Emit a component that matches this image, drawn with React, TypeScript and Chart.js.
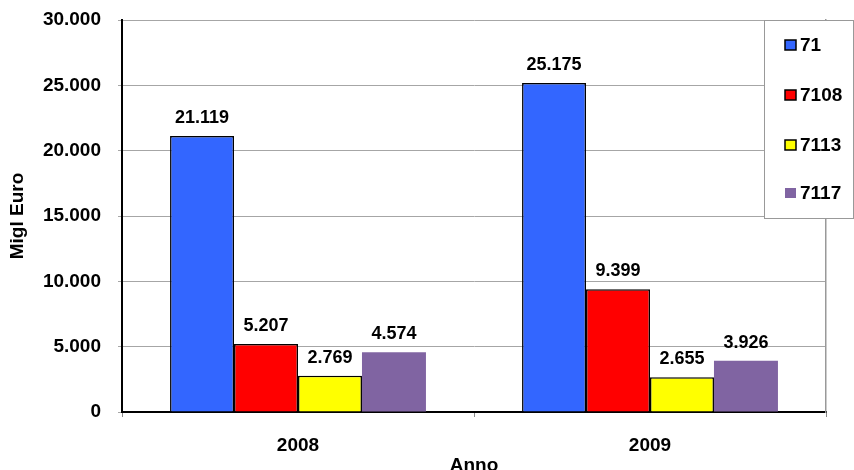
import React, { useEffect, useRef } from "react";
import { Chart, registerables } from "chart.js";

Chart.register(...registerables);

const categories = ["2008", "2009"];
const seriesNames = ["71", "7108", "7113", "7117"];
const series71 = [21119, 25175];
const series7108 = [5207, 9399];
const series7113 = [2769, 2655];
const series7117 = [4574, 3926];
const yTicks = [0, 5000, 10000, 15000, 20000, 25000, 30000];

const colors = ["#3366FF", "#FF0000", "#FFFF00", "#8064A2"];
const borders = [1.5, 1.5, 1.5, 0];
const FONT = "'Liberation Sans', Arial, Helvetica, sans-serif";

function fmt(v: number): string {
  const s = Math.round(v).toString();
  return s.replace(/\B(?=(\d{3})+(?!\d))/g, ".");
}

const labelPlugin = {
  id: "valueLabels",
  afterDatasetsDraw(chart: any) {
    const ctx = chart.ctx;
    ctx.save();
    ctx.font = `bold 18px ${FONT}`;
    ctx.fillStyle = "#000";
    ctx.textAlign = "center";
    ctx.textBaseline = "alphabetic";
    chart.data.datasets.forEach((ds: any, i: number) => {
      const meta = chart.getDatasetMeta(i);
      meta.data.forEach((bar: any, j: number) => {
        ctx.fillText(fmt(ds.data[j]), bar.x, bar.y - 13);
      });
    });
    ctx.restore();
  },
};

const legendPlugin = {
  id: "boxLegend",
  afterDraw(chart: any) {
    const ctx = chart.ctx;
    ctx.save();
    const x0 = 764, y0 = 20, w = 89, h = 198;
    ctx.fillStyle = "#fff";
    ctx.fillRect(x0, y0, w, h);
    ctx.strokeStyle = "#999";
    ctx.lineWidth = 1;
    ctx.strokeRect(x0 + 0.5, y0 + 0.5, w, h);
    const rows = [45, 95, 145, 193];
    ctx.font = `bold 19px ${FONT}`;
    ctx.textAlign = "left";
    ctx.textBaseline = "middle";
    chart.data.datasets.forEach((ds: any, i: number) => {
      const cy = rows[i];
      ctx.fillStyle = ds.backgroundColor;
      ctx.fillRect(785, cy - 5, 11, 10);
      if (ds.borderWidth > 0) {
        ctx.strokeStyle = "#000";
        ctx.lineWidth = 1.5;
        ctx.strokeRect(785, cy - 5, 11, 10);
      }
      ctx.fillStyle = "#000";
      ctx.fillText(ds.label, 800, cy + 1);
    });
    ctx.restore();
  },
};

export default function App() {
  const ref = useRef<HTMLCanvasElement | null>(null);
  useEffect(() => {
    if (!ref.current) return;
    const data = [series71, series7108, series7113, series7117];
    const chart = new Chart(ref.current, {
      type: "bar",
      data: {
        labels: categories,
        datasets: seriesNames.map((n, i) => ({
          label: n,
          data: data[i],
          backgroundColor: colors[i],
          borderColor: "#000",
          borderWidth: borders[i],
          barPercentage: 1,
          categoryPercentage: 0.727,
        })),
      },
      options: {
        responsive: false,
        animation: false,
        devicePixelRatio: 1,
        layout: { padding: { left: 0, right: 0, top: 20, bottom: 0 } },
        plugins: { legend: { display: false }, tooltip: { enabled: false } },
        scales: {
          x: {
            grid: { display: true, drawOnChartArea: false, tickLength: 5, color: "#888", offset: true },
            border: { color: "#000", width: 2 },
            ticks: { color: "#000", font: { family: FONT, size: 19, weight: "bold" }, padding: 17 },
            title: {
              display: true,
              text: "Anno",
              color: "#000",
              font: { family: FONT, size: 19, weight: "bold", lineHeight: 1 },
              padding: { top: 0, bottom: -5 },
            },
            afterFit: (s: any) => { s.height = 58; s.paddingLeft = 0; s.paddingRight = 0; },
          },
          y: {
            min: 0,
            max: 30000,
            afterBuildTicks: (s: any) => { s.ticks = yTicks.map((v) => ({ value: v })); },
            grid: { color: "#a6a6a6", lineWidth: 1, tickLength: 4 },
            border: { color: "#000", width: 2 },
            ticks: {
              color: "#000",
              font: { family: FONT, size: 19, weight: "bold" },
              padding: 17,
              callback: (v: any) => fmt(Number(v)),
            },
            title: {
              display: true,
              text: "Migl Euro",
              color: "#000",
              font: { family: FONT, size: 19, weight: "bold", lineHeight: 1 },
              padding: { top: 8, bottom: 0 },
            },
            afterFit: (s: any) => { s.width = 122; s.paddingTop = 0; s.paddingBottom = 0; },
          },
          yRight: {
            position: "right",
            min: 0,
            max: 30000,
            ticks: { display: false },
            grid: { display: true, drawOnChartArea: false, drawTicks: false },
            border: { color: "#999", width: 1.5 },
            afterFit: (s: any) => { s.width = 28; s.paddingTop = 0; s.paddingBottom = 0; },
          },
        },
      },
      plugins: [labelPlugin, legendPlugin],
    } as any);
    return () => chart.destroy();
  }, []);
  return (
    <div style={{ position: "absolute", left: 0, top: 0, width: 854, height: 470, background: "#fff" }}>
      <canvas ref={ref} width={854} height={470} />
    </div>
  );
}
